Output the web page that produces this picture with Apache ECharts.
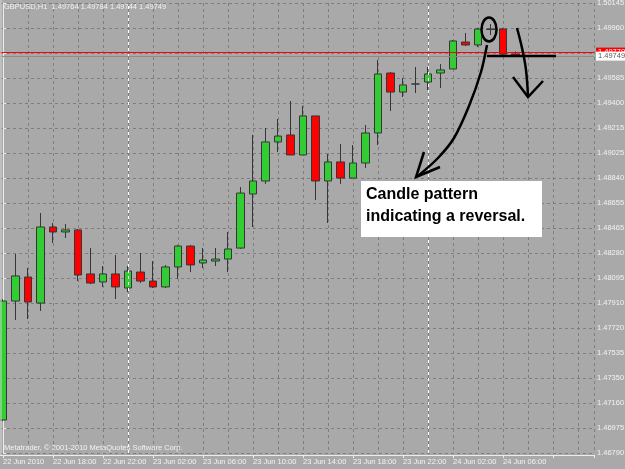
<!DOCTYPE html>
<html>
<head>
<meta charset="utf-8">
<script src="https://cdn.jsdelivr.net/npm/echarts@6/dist/echarts.min.js"></script>
<style>
html,body{margin:0;padding:0;background:#a9a9a9;}
#c{width:625px;height:469px;}
</style>
</head>
<body>
<div id="c"></div>
<script>
// ---- data ----
const symbol = 'GBPUSD,H1';
const barIndex = [0,1,2,3,4,5,6,7,8,9,10,11,12,13,14,15,16,17,18,19,20,21,22,23,24,25,26,27,28,29,30,31,32,33,34,35,36,37,38,39,40,41];
const opens  = [1.47036,1.47923,1.48102,1.47908,1.48475,1.48438,1.48453,1.48125,1.48065,1.48125,1.48020,1.48139,1.48072,1.48028,1.48177,1.48333,1.48207,1.48221,1.48236,1.48318,1.48721,1.48818,1.49109,1.49161,1.49012,1.49303,1.48818,1.48960,1.48840,1.48952,1.49176,1.49623,1.49481,1.49541,1.49556,1.49623,1.49653,1.49854,1.49832,1.49951,1.49951,1.49764];
const highs  = [1.47938,1.48274,1.48169,1.48579,1.48505,1.48497,1.48460,1.48318,1.48184,1.48266,1.48184,1.48281,1.48221,1.48192,1.48341,1.48341,1.48318,1.48318,1.48438,1.48773,1.49161,1.49213,1.49280,1.49414,1.49377,1.49303,1.49019,1.49094,1.49086,1.49235,1.49720,1.49631,1.49586,1.49668,1.49668,1.49690,1.49869,1.49921,1.49959,1.49988,1.49959,1.49784];
const lows   = [1.47029,1.47782,1.47789,1.47849,1.48356,1.48393,1.48072,1.48050,1.48028,1.47938,1.47990,1.48057,1.48020,1.48020,1.48087,1.48139,1.48169,1.48184,1.48139,1.48311,1.48475,1.48796,1.49034,1.49012,1.49012,1.48676,1.48505,1.48796,1.48840,1.48915,1.49086,1.49340,1.49444,1.49474,1.49496,1.49511,1.49653,1.49824,1.49817,1.49906,1.49755,1.49744];
const closes = [1.47923,1.48110,1.47916,1.48475,1.48438,1.48453,1.48117,1.48057,1.48125,1.48028,1.48147,1.48072,1.48028,1.48177,1.48333,1.48192,1.48229,1.48236,1.48311,1.48728,1.48818,1.49109,1.49153,1.49012,1.49303,1.48818,1.48960,1.48840,1.48952,1.49176,1.49616,1.49481,1.49534,1.49541,1.49616,1.49646,1.49862,1.49832,1.49951,1.49948,1.49764,1.49749];
const xTickLabels = ['22 Jun 2010','22 Jun 18:00','22 Jun 22:00','23 Jun 02:00','23 Jun 06:00','23 Jun 10:00','23 Jun 14:00','23 Jun 18:00','23 Jun 22:00','24 Jun 02:00','24 Jun 06:00'];
const yTickLabels = ['1.46790','1.46975','1.47160','1.47350','1.47535','1.47720','1.47910','1.48095','1.48280','1.48465','1.48655','1.48840','1.49025','1.49215','1.49400','1.49585','1.49775','1.49960','1.50145'];
const daySeparators = [10, 34];
const askPrice = 1.49779;
const bidPrice = 1.49749;
const yMin = 1.46790, yMax = 1.50145;
const xMin = -4, xMax = 47.28;
const annotationLines = ['Candle pattern', 'indicating a reversal.'];
const copyright = 'Metatrader, \u00a9 2001-2010 MetaQuotes Software Corp.';

// ---- chart ----
const FONT = "'Liberation Sans', Arial, sans-serif";
const TXT = '#f3f3f3';
const GRIDC = '#7e7e7e';
const yStep = (yMax - yMin) / (yTickLabels.length - 1);
const fmt = v => v.toFixed(5);
const last = opens.length - 1;

const chart = echarts.init(document.getElementById('c'), null, {renderer: 'canvas'});
const option = {
  backgroundColor: '#a9a9a9',
  animation: false,
  title: {
    text: symbol + '  ' + fmt(opens[last]) + ' ' + fmt(highs[last]) + ' ' + fmt(lows[last]) + ' ' + fmt(closes[last]),
    left: 4, top: 3, padding: 0,
    textStyle: {color: TXT, fontSize: 7.5, fontWeight: 'normal', fontFamily: FONT}
  },
  grid: {left: -47, right: 31, top: 3, bottom: 16, containLabel: false, outerBoundsMode: 'none'},
  xAxis: [
    {
      type: 'value', min: xMin, max: xMax, interval: 4, offset: 2,
      axisLine: {show: true, lineStyle: {color: '#ececec', width: 1}},
      axisTick: {show: true, length: 3, lineStyle: {color: '#ececec'}},
      axisLabel: {
        show: true, align: 'left', margin: 3, color: TXT, fontSize: 7.5, fontFamily: FONT,
        formatter: v => (v >= 0 && Math.abs(v % 4) < 1e-9) ? (xTickLabels[Math.round(v / 4)] || '') : ''
      },
      splitLine: {show: false}
    },
    {
      type: 'value', min: xMin, max: xMax, interval: 2, position: 'top',
      axisLine: {show: false}, axisTick: {show: false}, axisLabel: {show: false},
      splitLine: {show: true, lineStyle: {color: GRIDC, type: [3, 3], width: 1}}
    }
  ],
  yAxis: {
    type: 'value', position: 'right', min: yMin, max: yMax, interval: yStep,
    axisLine: {show: true, lineStyle: {color: '#ececec', width: 1}},
    axisTick: {show: true, length: 3, lineStyle: {color: '#ececec'}},
    axisLabel: {
      margin: 3, color: TXT, fontSize: 7.5, fontFamily: FONT,
      formatter: v => yTickLabels[Math.round((v - yMin) / yStep)] || ''
    },
    splitLine: {show: true, lineStyle: {color: GRIDC, type: [3, 3], width: 1}}
  },
  series: [
    {
      type: 'line', xAxisIndex: 0, data: [], symbol: 'none', silent: true,
      markLine: {
        silent: true, animation: false, symbol: ['none', 'none'], precision: 5,
        data: daySeparators.map(d => ({xAxis: d, lineStyle: {color: '#ffffff', type: [3, 3], width: 1}, label: {show: false}})).concat([
          {yAxis: askPrice, lineStyle: {color: '#ff0000', type: 'solid', width: 1},
           label: {show: true, position: 'end', distance: 2, formatter: fmt(askPrice), backgroundColor: '#ff0000', color: '#ffffff', fontSize: 7.5, fontFamily: FONT, padding: [1, 2, 0, 2]}},
          {yAxis: bidPrice, lineStyle: {color: '#8c8c8c', type: 'solid', width: 1},
           label: {show: true, position: 'end', distance: 2, formatter: fmt(bidPrice), backgroundColor: '#ffffff', color: '#5a5a5a', fontSize: 7.5, fontFamily: FONT, padding: [1, 2, 0, 2]}}
        ])
      }
    },
    {
      type: 'candlestick',
      xAxisIndex: 0,
      barWidth: 8,
      data: barIndex.map((x, i) => [x, opens[i], closes[i], lows[i], highs[i]]),
      itemStyle: {color: '#32cd32', color0: '#ff0000', borderColor: '#363636', borderColor0: '#363636', borderWidth: 1}
    }
  ],
  graphic: [
    {type: 'line', shape: {x1: 1, y1: 0, x2: 1, y2: 455}, style: {stroke: '#d4d4d4', lineWidth: 1}, z: 100},
    {type: 'text', x: 4, y: 444, style: {text: copyright, fill: TXT, font: '7.5px ' + FONT}, z: 100},
    {type: 'rect', shape: {x: 361, y: 181, width: 181, height: 56}, style: {fill: '#ffffff'}, z: 100},
    {type: 'text', x: 366, y: 184, style: {text: annotationLines.join('\n'), fill: '#000000', font: 'bold 16px ' + FONT, lineHeight: 22}, z: 101},
    {type: 'ellipse', shape: {cx: 489, cy: 29.5, rx: 7.5, ry: 12}, style: {fill: 'none', stroke: '#000', lineWidth: 2.5}, z: 100},
    {type: 'polyline', shape: {points: [[487, 45], [481, 72], [469, 106], [454, 138], [438, 158], [418, 176]], smooth: 0.3}, style: {fill: 'none', stroke: '#000', lineWidth: 2.5}, z: 100},
    {type: 'polyline', shape: {points: [[424, 152], [416, 177], [440, 167]]}, style: {fill: 'none', stroke: '#000', lineWidth: 2.5}, z: 100},
    {type: 'line', shape: {x1: 487, y1: 56, x2: 556, y2: 56}, style: {stroke: '#000', lineWidth: 2.5}, z: 100},
    {type: 'polyline', shape: {points: [[517, 28], [522, 48], [526, 70], [528, 97]], smooth: 0.4}, style: {fill: 'none', stroke: '#000', lineWidth: 2.5}, z: 100},
    {type: 'polyline', shape: {points: [[513, 77], [528, 97], [543, 81]]}, style: {fill: 'none', stroke: '#000', lineWidth: 2.5}, z: 100}
  ]
};
chart.setOption(option);
</script>
</body>
</html>
